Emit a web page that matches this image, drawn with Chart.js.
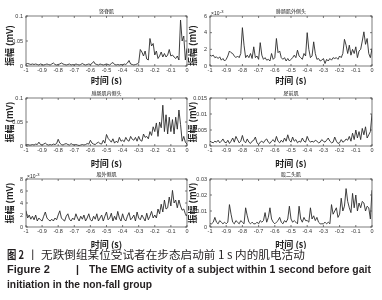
<!DOCTYPE html>
<html><head><meta charset="utf-8">
<script src="https://cdn.jsdelivr.net/npm/chart.js@4.4.0/dist/chart.umd.min.js"></script>
<style>
html,body{margin:0;padding:0;background:#fff;width:382px;height:300px;overflow:hidden;position:relative;}
canvas{position:absolute;}
.seg{position:absolute;white-space:nowrap;color:#231f20;transform-origin:0 50%;}
.zh{font:11.5px/14px "Noto Sans CJK SC",sans-serif;top:247px;}
.en{font:bold 10.5px/13px "Liberation Sans",Arial,sans-serif;}
.l2{top:262.5px;}
.l3{top:277.5px;}
</style></head><body>
<canvas id="p1" width="190" height="85" style="left:0;top:0"></canvas>
<canvas id="p2" width="196" height="85" style="left:186px;top:0"></canvas>
<canvas id="p3" width="190" height="83" style="left:0;top:85px"></canvas>
<canvas id="p4" width="196" height="83" style="left:186px;top:85px"></canvas>
<canvas id="p5" width="190" height="84" style="left:0;top:165px"></canvas>
<canvas id="p6" width="196" height="84" style="left:186px;top:165px"></canvas>
<span class="seg zh" data-x="7" data-w="17" style="font-weight:bold">图 2</span>
<span class="seg zh" data-x="27" data-w="4">丨</span>
<span class="seg zh" data-x="41" data-w="264">无跌倒组某位受试者在步态启动前 1 s 内的肌电活动</span>
<span class="seg en l2" data-x="7" data-w="0" style="font-size:11px">Figure 2</span>
<span class="seg en l2" data-x="76" data-w="3">|</span>
<span class="seg en l2" data-x="89" data-w="282">The EMG activity of a subject within 1 second before gait</span>
<span class="seg en l3" data-x="7" data-w="145">initiation in the non-fall group</span>
<script>
// panel titles
const panelTitles = ["竖脊肌", "腓肠肌外侧头", "腓肠肌内侧头", "胫前肌", "股外侧肌", "股二头肌"];
const xAxisTitle = "时间 (s)";
const yAxisTitle = "振幅 (mV)";
// x ticks
const xTicks = [-1, -0.9, -0.8, -0.7, -0.6, -0.5, -0.4, -0.3, -0.2, -0.1, 0];
// y ticks per panel
const yTicks1 = [0, 0.05, 0.1];
const yTicks2 = [0, 2, 4, 6];        // ×10^-3
const yTicks3 = [0, 0.05, 0.1];
const yTicks4 = [0, 0.005, 0.01, 0.015];
const yTicks5 = [0, 2, 4, 6, 8];     // ×10^-3
const yTicks6 = [0, 0.01, 0.02, 0.03];

// amplitude samples every 0.01 s from -1 s to 0 s
const erectorSpinae = [
0.004,0.005,0.004,0.003,0.004,0.003,0.004,0.003,0.002,0.004,
0.003,0.002,0.003,0.004,0.003,0.002,0.004,0.006,0.003,0.002,
0.003,0.004,0.006,0.004,0.003,0.002,0.003,0.004,0.002,0.003,
0.002,0.004,0.003,0.002,0.003,0.005,0.003,0.002,0.003,0.004,
0.003,0.005,0.009,0.004,0.003,0.002,0.004,0.003,0.002,0.003,
0.004,0.003,0.002,0.005,0.007,0.003,0.002,0.003,0.002,0.003,
0.002,0.004,0.003,0.006,0.011,0.004,0.003,0.002,0.003,0.004,
0.006,0.033,0.028,0.02,0.03,0.014,0.012,0.055,0.04,0.045,
0.022,0.03,0.015,0.02,0.028,0.018,0.025,0.018,0.022,0.033,
0.02,0.022,0.018,0.015,0.02,0.012,0.092,0.05,0.06,0.012,
0.035];
const gastroLateral = [ // ×10^-3 mV
1.3,1.2,1.3,1.0,1.1,0.9,1.1,0.7,0.9,0.6,
0.8,1.2,1.8,1.6,1.5,1.2,1.0,1.2,1.0,1.5,
4.6,2.5,1.0,1.3,1.0,1.5,0.9,2.3,1.0,1.2,
0.8,2.8,1.3,0.8,1.0,0.7,0.8,0.6,1.5,0.8,
1.0,3.3,1.6,1.8,1.0,0.8,1.0,0.6,0.9,0.6,
0.8,1.0,1.3,1.0,1.9,1.2,1.0,0.8,1.5,1.2,
4.0,2.0,1.0,1.2,2.9,1.5,0.8,0.9,0.6,0.7,
0.9,0.3,0.8,0.6,0.9,0.7,1.0,0.9,1.0,0.8,
1.2,1.0,1.5,3.2,2.5,1.5,2.5,1.3,2.0,1.5,
2.3,1.0,1.8,2.0,3.0,4.1,2.6,3.3,1.5,1.0,
2.1];
const gastroMedial = [
0.002,0.003,0.002,0.002,0.003,0.002,0.004,0.003,0.008,0.003,
0.002,0.004,0.006,0.003,0.002,0.003,0.002,0.004,0.003,0.005,
0.014,0.006,0.003,0.002,0.004,0.005,0.003,0.002,0.005,0.003,
0.002,0.003,0.002,0.001,0.002,0.003,0.002,0.003,0.005,0.004,
0.012,0.006,0.004,0.003,0.006,0.008,0.005,0.004,0.012,0.006,
0.024,0.016,0.012,0.008,0.015,0.006,0.01,0.007,0.018,0.01,
0.012,0.009,0.018,0.012,0.01,0.02,0.014,0.012,0.018,0.01,
0.02,0.012,0.01,0.025,0.018,0.02,0.015,0.03,0.022,0.04,
0.03,0.048,0.02,0.05,0.038,0.085,0.03,0.065,0.025,0.06,
0.03,0.055,0.025,0.06,0.035,0.075,0.045,0.01,0.02,0.008,
0.004];
const tibialisAnterior = [
0.0015,0.0012,0.001,0.0015,0.0012,0.0018,0.001,0.0015,0.0022,0.0012,
0.001,0.0018,0.0008,0.0015,0.0025,0.0012,0.003,0.002,0.001,0.0015,
0.0033,0.0015,0.001,0.0022,0.0012,0.0008,0.0015,0.0018,0.0028,0.001,
0.0005,0.0012,0.0015,0.001,0.0018,0.0022,0.0012,0.0008,0.0015,0.002,
0.0012,0.003,0.0015,0.001,0.0018,0.0012,0.0025,0.0015,0.0035,0.0018,
0.0012,0.0028,0.0015,0.002,0.001,0.0015,0.0012,0.0025,0.0015,0.0012,
0.003,0.0018,0.0012,0.0015,0.0012,0.0018,0.0015,0.001,0.0012,0.002,
0.0015,0.0012,0.0018,0.0025,0.0015,0.001,0.0012,0.0028,0.0015,0.0008,
0.001,0.002,0.0012,0.0015,0.0022,0.0018,0.003,0.0015,0.004,0.002,
0.005,0.0025,0.0045,0.002,0.0055,0.0035,0.006,0.0025,0.0035,0.0045,
0.01];
const vastusLateralis = [ // ×10^-3 mV
2.7,1.5,2.0,1.3,1.8,1.2,2.0,1.0,1.5,1.2,
1.0,1.8,2.5,1.5,1.2,1.0,1.3,1.0,1.5,1.2,
2.0,2.7,1.5,1.2,1.0,1.8,2.2,1.3,1.0,1.5,
1.2,2.2,1.5,1.0,1.8,1.3,2.0,1.0,1.5,2.2,
1.2,1.0,1.8,1.3,2.2,1.0,1.5,2.0,1.0,1.8,
2.5,1.2,1.5,2.3,1.0,1.8,1.2,2.6,1.5,1.0,
2.2,1.3,1.0,1.8,2.4,1.2,1.5,2.0,1.0,2.5,
1.5,1.2,2.0,1.5,1.0,2.3,1.2,1.8,2.6,1.5,
2.0,1.5,3.0,2.2,3.8,2.5,4.5,3.0,3.2,5.0,
3.5,6.1,4.0,4.5,3.2,4.5,3.5,2.8,3.0,2.2,
1.8];
const bicepsFemoris = [
0.002,0.002,0.003,0.006,0.003,0.002,0.004,0.003,0.002,0.003,
0.002,0.003,0.014,0.008,0.003,0.002,0.004,0.003,0.002,0.004,
0.003,0.002,0.012,0.007,0.003,0.002,0.003,0.002,0.002,0.003,
0.002,0.004,0.003,0.004,0.009,0.003,0.006,0.012,0.005,0.003,
0.002,0.003,0.004,0.006,0.003,0.002,0.004,0.003,0.005,0.013,
0.005,0.003,0.004,0.003,0.002,0.013,0.005,0.003,0.006,0.004,
0.004,0.003,0.012,0.005,0.007,0.004,0.006,0.003,0.002,0.002,
0.002,0.003,0.002,0.003,0.002,0.014,0.008,0.01,0.012,0.006,
0.008,0.018,0.01,0.013,0.024,0.016,0.012,0.009,0.021,0.012,
0.02,0.01,0.015,0.012,0.016,0.015,0.01,0.013,0.012,0.005,
0.023];

const timeS = erectorSpinae.map((_, i) => -1 + i / 100);

const INK = '#333';
const tickFont = {family: '"Liberation Sans", Arial, sans-serif', size: 5.5};

const boxPlugin = {
  id: 'matlabBox',
  afterDatasetsDraw(chart, args, opts) {
    const {ctx, chartArea: a, scales: {x, y}} = chart;
    ctx.save();
    ctx.strokeStyle = '#444';
    ctx.lineWidth = 0.7;
    ctx.strokeRect(a.left, a.top, a.right - a.left, a.bottom - a.top);
    ctx.beginPath();
    const tl = 2;
    x.ticks.forEach(t => {
      const px = x.getPixelForValue(t.value);
      ctx.moveTo(px, a.bottom); ctx.lineTo(px, a.bottom - tl);
      ctx.moveTo(px, a.top); ctx.lineTo(px, a.top + tl);
    });
    y.ticks.forEach(t => {
      const py = y.getPixelForValue(t.value);
      ctx.moveTo(a.left, py); ctx.lineTo(a.left + tl, py);
      ctx.moveTo(a.right, py); ctx.lineTo(a.right - tl, py);
    });
    ctx.stroke();
    ctx.fillStyle = '#222';
    ctx.font = '5px "Noto Sans CJK SC", sans-serif';
    ctx.textAlign = 'center';
    ctx.textBaseline = 'middle';
    ctx.fillText(opts.title, (a.left + a.right) / 2, a.top - 4.5);
    if (opts.exp) {
      ctx.textAlign = 'left';
      ctx.font = '5px "Liberation Sans", Arial, sans-serif';
      ctx.fillText('×10', a.left + 1, a.top - 2.5);
      ctx.font = '4px "Liberation Sans", Arial, sans-serif';
      ctx.fillText('-3', a.left + 10, a.top - 4.5);
    }
    ctx.restore();
  }
};

function fmt(v) { return String(Math.round(v * 1e6) / 1e6); }

function makePanel(id, values, yTickVals, title, exp, geo) {
  const ymax = yTickVals[yTickVals.length - 1];
  new Chart(document.getElementById(id), {
    type: 'line',
    data: {datasets: [{
      data: values.map((v, i) => ({x: timeS[i], y: v})),
      borderColor: '#2b2b2b', borderWidth: 0.9, pointRadius: 0, tension: 0, fill: false
    }]},
    options: {
      responsive: false, animation: false, events: [],
      layout: {padding: {top: geo.t, right: geo.r, left: 0, bottom: 0}},
      plugins: {legend: {display: false}, tooltip: {enabled: false},
        matlabBox: {title: title, exp: exp}},
      scales: {
        x: {type: 'linear', min: -1, max: 0,
          afterBuildTicks: s => { s.ticks = xTicks.map(v => ({value: v})); },
          ticks: {autoSkip: false, maxRotation: 0, padding: 1.5, color: INK, font: tickFont, callback: v => fmt(v)},
          grid: {display: false, drawTicks: false}, border: {display: false},
          title: {display: true, text: xAxisTitle, color: '#222',
            font: {family: '"Noto Sans CJK SC", sans-serif', size: 9, weight: 'bold', lineHeight: 1},
            padding: {top: 0, bottom: 0}},
          afterFit: s => { s.height = geo.b; }
        },
        y: {type: 'linear', min: 0, max: ymax,
          afterBuildTicks: s => { s.ticks = yTickVals.map(v => ({value: v})); },
          ticks: {autoSkip: false, padding: 3, color: INK, font: tickFont, callback: v => fmt(v)},
          grid: {display: false, drawTicks: false}, border: {display: false},
          title: {display: true, text: yAxisTitle, color: '#222', align: geo.ya,
            font: {family: '"Noto Sans CJK SC", sans-serif', size: 9, weight: 'bold', lineHeight: 1},
            padding: {top: geo.yp, bottom: 0}},
          afterFit: s => { s.width = geo.l; }
        }
      }
    },
    plugins: [boxPlugin]
  });
}

const L = {l: 26, r: 2, yp: 5};
const R = {l: 24, r: 10, yp: 2.5};
makePanel('p1', erectorSpinae, yTicks1, panelTitles[0], false, {...L, t: 16, b: 19, ya: 'start'});
makePanel('p2', gastroLateral, yTicks2, panelTitles[1], true, {...R, t: 16, b: 19, ya: 'start'});
makePanel('p3', gastroMedial, yTicks3, panelTitles[2], false, {...L, t: 13, b: 22, ya: 'center'});
makePanel('p4', tibialisAnterior, yTicks4, panelTitles[3], false, {...R, t: 13, b: 22, ya: 'center'});
makePanel('p5', vastusLateralis, yTicks5, panelTitles[4], true, {...L, t: 14, b: 22, ya: 'center'});
makePanel('p6', bicepsFemoris, yTicks6, panelTitles[5], false, {...R, t: 14, b: 22, ya: 'center'});

// fit caption segments to their measured extents in the reference
document.querySelectorAll('.seg').forEach(el => {
  el.style.left = el.dataset.x + 'px';
  const w = el.getBoundingClientRect().width;
  const target = +el.dataset.w;
  if (w > 0 && target > 6) el.style.transform = 'scaleX(' + (target / w).toFixed(3) + ')';
});
</script>
</body></html>
